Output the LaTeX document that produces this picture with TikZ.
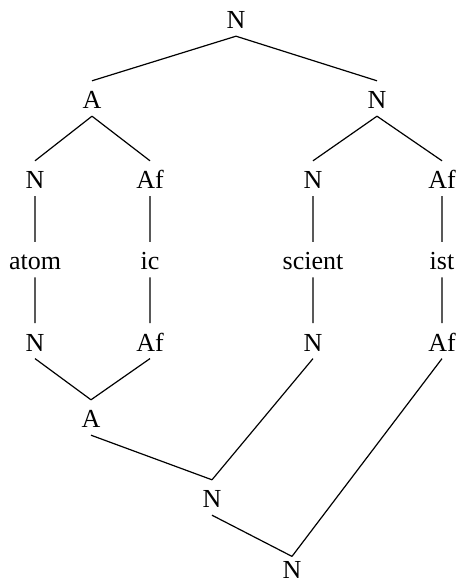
\documentclass[tikz,border=0pt]{standalone}
\usepackage{fontspec}
\setmainfont{Liberation Serif}
\usetikzlibrary{positioning}

\begin{document}
\begin{tikzpicture}[%
        x=0.5pt, y=0.5pt,
        every node/.style={inner sep=2pt, text height=11.6pt, text depth=1.5pt,
          font=\fontsize{13}{15}\selectfont},
        node distance=22.9pt, line width=0.6pt
      ]
      \useasboundingbox (0,0) rectangle (458,585);
      % upper tree
      \node (n0) at (236,566.5) {N};
      \node (a1) at (92,486.5) {A};
      \node (n1) at (377,486.5) {N};
      \node (n2) at (35,406.5) {N};
      \node (af2) at (150,406.5) {Af};
      \node (n3) at (313,406.5) {N};
      \node (af3) at (442,406.5) {Af};
      % morphs
      \node (atom) [below=of n2] {atom};
      \node (ic) [below=of af2] {ic};
      \node (scient) [below=of n3] {scient};
      \node (ist) [below=of af3] {ist};
      % lower tree
      \node (n4) [below=of atom] {N};
      \node (af4) [below=of ic] {Af};
      \node (n5) [below=of scient] {N};
      \node (af5) [below=of ist] {Af};
      \node (a6) at (91,167.5) {A};
      \node (n7) at (212,87.5) {N};
      \node (n8) [inner ysep=0pt, text height=11pt, text depth=0pt] at (292,17) {N};
      \path [draw] (n0.south) -- (a1.north)
      (n0.south) -- (n1.north)
      (a1.south) -- (n2.north)
      (a1.south) -- (af2.north)
      (n1.south) -- (n3.north)
      (n1.south) -- (af3.north)
      (n2) -- (atom) (atom) -- (n4)
      (af2) -- (ic) (ic) -- (af4)
      (n3) -- (scient) (scient) -- (n5)
      (af3) -- (ist) (ist) -- (af5)
      (n4.south) -- (a6.north)
      (af4.south) -- (a6.north)
      (a6.south) -- (n7.north)
      (n5.south) -- (n7.north)
      (n7.south) -- (n8.north)
      (af5.south) -- (n8.north);
    \end{tikzpicture}
\end{document}
